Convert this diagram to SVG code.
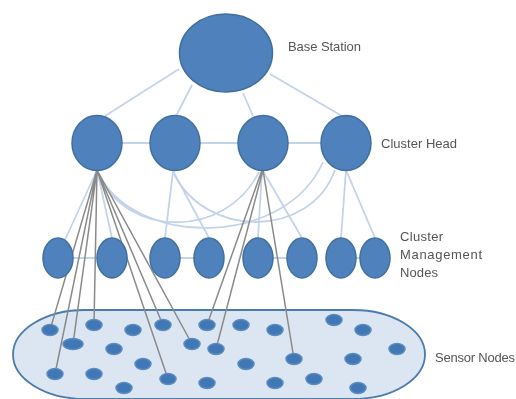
<svg xmlns="http://www.w3.org/2000/svg" width="516" height="399" viewBox="0 0 516 399">
<style>
.big{fill:#4f81bd;stroke:#41709f;stroke-width:1.5}
.s{fill:#3f77b5;stroke:#5c8cc0;stroke-width:1.5}
.light{fill:none;stroke:#c3d4ea;stroke-width:1.8}
.dark{fill:none;stroke:#8a8a8a;stroke-width:1.5}
text{font-family:"Liberation Sans",Arial,sans-serif;font-size:13px;fill:#555}
</style>
<defs><filter id="b" x="-5%" y="-5%" width="110%" height="110%"><feGaussianBlur stdDeviation="0.5"/></filter></defs>
<g filter="url(#b)">
<g id="sensor-area"><rect x="13" y="310" width="412" height="89" rx="72" ry="44.5" fill="#dce6f2" stroke="#4a7bad" stroke-width="1.8"/></g>
<g id="connectors">
<path class="light" d="M179 69L105 116M192 85L176 116M243 93L253 116M270 74L342 116M120 143H150M200 143H238M288 143H321"/>
<path class="light" d="M97 170L65 240M97 170L112 238M173 171L165 238M173 171L209 238M262 171L258 238M263 171L302 238M346 170L341 238M346 170L375 238"/>
<path class="light" d="M73 258H97M180 258H194M273 258H287M356 258H360"/>
<path class="light" d="M97 172C125 238 225 240 259 172M98 173C135 248 285 248 323 162M173 172C205 239 310 239 335 170"/>
<path class="dark" d="M97 170L50 330M97 170L73 344M97 170L55 374M97 170L94 325M97 170L163 325M97 170L192 344M97 170L168 379M262 170L207 325M263 170L216 349M263 170L294 359"/>
</g>
<g id="base-station"><ellipse class="big" cx="226" cy="53" rx="46.5" ry="39"/></g>
<g id="ch1"><ellipse class="big" cx="97" cy="143" rx="25" ry="27.5"/></g>
<g id="ch2"><ellipse class="big" cx="175" cy="143" rx="25" ry="27.5"/></g>
<g id="ch3"><ellipse class="big" cx="263" cy="143" rx="25" ry="27.5"/></g>
<g id="ch4"><ellipse class="big" cx="346" cy="143" rx="25" ry="27.5"/></g>
<g id="cm1"><ellipse class="big" cx="58" cy="258" rx="15" ry="20"/></g>
<g id="cm2"><ellipse class="big" cx="112" cy="258" rx="15" ry="20"/></g>
<g id="cm3"><ellipse class="big" cx="165" cy="258" rx="15" ry="20"/></g>
<g id="cm4"><ellipse class="big" cx="209" cy="258" rx="15" ry="20"/></g>
<g id="cm5"><ellipse class="big" cx="258" cy="258" rx="15" ry="20"/></g>
<g id="cm6"><ellipse class="big" cx="302" cy="258" rx="15" ry="20"/></g>
<g id="cm7"><ellipse class="big" cx="341" cy="258" rx="15" ry="20"/></g>
<g id="cm8"><ellipse class="big" cx="375" cy="258" rx="15" ry="20"/></g>
<g id="sensors">
<ellipse class="s" cx="50" cy="330" rx="8" ry="5.5"/><ellipse class="s" cx="94" cy="325" rx="8" ry="5.5"/><ellipse class="s" cx="133" cy="330" rx="8" ry="5.5"/><ellipse class="s" cx="163" cy="325" rx="8" ry="5.5"/><ellipse class="s" cx="207" cy="325" rx="8" ry="5.5"/><ellipse class="s" cx="241" cy="325" rx="8" ry="5.5"/><ellipse class="s" cx="275" cy="330" rx="8" ry="5.5"/><ellipse class="s" cx="334" cy="320" rx="8" ry="5.5"/><ellipse class="s" cx="363" cy="330" rx="8" ry="5.5"/>
<ellipse class="s" cx="73" cy="344" rx="10" ry="5.5"/><ellipse class="s" cx="114" cy="349" rx="8" ry="5.5"/><ellipse class="s" cx="192" cy="344" rx="8" ry="5.5"/><ellipse class="s" cx="216" cy="349" rx="8" ry="5.5"/><ellipse class="s" cx="397" cy="349" rx="8" ry="5.5"/>
<ellipse class="s" cx="294" cy="359" rx="8" ry="5.5"/><ellipse class="s" cx="353" cy="359" rx="8" ry="5.5"/><ellipse class="s" cx="143" cy="364" rx="8" ry="5.5"/><ellipse class="s" cx="246" cy="364" rx="8" ry="5.5"/>
<ellipse class="s" cx="55" cy="374" rx="8" ry="5.5"/><ellipse class="s" cx="94" cy="374" rx="8" ry="5.5"/><ellipse class="s" cx="168" cy="379" rx="8" ry="5.5"/><ellipse class="s" cx="124" cy="388" rx="8" ry="5.5"/><ellipse class="s" cx="207" cy="383" rx="8" ry="5.5"/><ellipse class="s" cx="275" cy="383" rx="8" ry="5.5"/><ellipse class="s" cx="314" cy="379" rx="8" ry="5.5"/><ellipse class="s" cx="358" cy="388" rx="8" ry="5.5"/>
</g>
</g>
<g id="labels" filter="url(#b)">
<text x="288" y="51" textLength="73">Base Station</text>
<text x="381" y="148" textLength="76">Cluster Head</text>
<text x="400" y="241" textLength="43">Cluster</text>
<text x="400" y="259" textLength="82">Management</text>
<text x="400" y="277" textLength="38">Nodes</text>
<text x="435" y="362" textLength="80">Sensor Nodes</text>
</g>
</svg>
